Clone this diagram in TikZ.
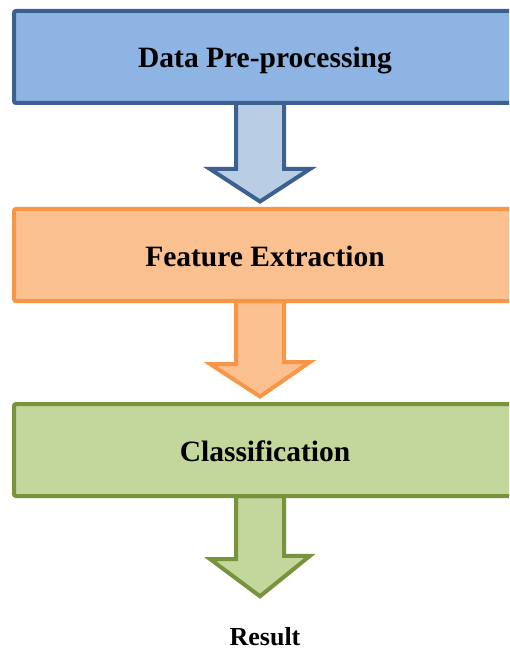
\documentclass[tikz,border=0pt]{standalone}
\usepackage{fontspec}
\setmainfont{Liberation Serif}
\usetikzlibrary{calc,backgrounds}
\definecolor{bfill}{HTML}{8EB4E3}
\definecolor{bline}{HTML}{3C6191}
\definecolor{bafill}{HTML}{B9CDE5}
\definecolor{ofill}{HTML}{FAC090}
\definecolor{oline}{HTML}{F79646}
\definecolor{gfill}{HTML}{C3D69B}
\definecolor{gline}{HTML}{77933C}
\tikzset{
  stagebox/.style={rectangle, rounded corners=2pt, line width=4pt, minimum width=506pt, minimum height=92pt, inner sep=0pt,
    text height=24pt, text depth=2pt,
    font=\fontsize{29.5}{34}\selectfont\bfseries},
  fatarrow/.style={line width=4pt, line join=miter}
}
\begin{document}
\begin{tikzpicture}[x=1pt,y=-1pt]
\useasboundingbox (0,0) rectangle (509,652);
\clip (0,0) rectangle (509,652);
\node[stagebox, draw=bline, fill=bfill] (b1) at (267,57) {\hspace*{-4pt}Data Pre-processing};
\node[stagebox, draw=oline, fill=ofill] (b2) at (267,255) {\hspace*{-4pt}Feature Extraction};
\node[stagebox, draw=gline, fill=gfill] (b3) at (267,450) {\hspace*{-4pt}Classification};
\node[font=\fontsize{26}{30}\selectfont\bfseries] (res) at (265,637) {Result};
\begin{scope}[on background layer]
\draw[fatarrow, draw=bline, fill=bafill]
  ($(b1.south)+(-31,-2)$) -- ++(0,66) -- ++(-26,0) -- ($(b2.north)+(-7,-5.5)$)
  -- ++(50,-32.5) -- ++(-26,0) -- ($(b1.south)+(17,-2)$) -- cycle;
\draw[fatarrow, draw=oline, fill=ofill]
  ($(b2.south)+(-31,-2)$) -- ++(0,63) -- ++(-26,0) -- ($(b3.north)+(-7,-5.5)$)
  -- ++(50,-34.5) -- ++(-26,0) -- ($(b2.south)+(17,-2)$) -- cycle;
\draw[fatarrow, draw=gline, fill=gfill]
  ($(b3.south)+(-31,-2)$) -- ++(0,63) -- ++(-26,0) -- ($(res.north)+(-5,-28)$)
  -- ++(50,-40.5) -- ++(-26,0) -- ($(b3.south)+(17,-2)$) -- cycle;
\end{scope}
\end{tikzpicture}
\end{document}
